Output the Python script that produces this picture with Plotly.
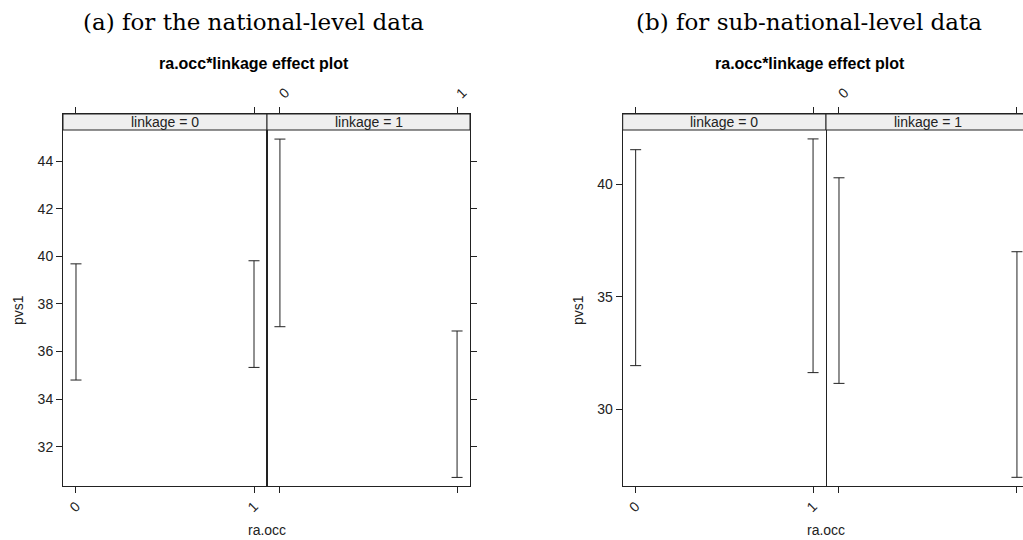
import plotly.graph_objects as go

# Confidence limits of pvs1 by ra.occ (0/1), split by linkage (0/1)
ra_occ = [0, 1]
ra_occ_labels = ["0", "1"]

# (a) national-level data
nat_link0_lower = [34.80, 35.33]
nat_link0_upper = [39.68, 39.81]
nat_link1_lower = [37.04, 30.71]
nat_link1_upper = [44.92, 36.86]
nat_yticks = [32, 34, 36, 38, 40, 42, 44]

# (b) sub-national-level data
sub_link0_lower = [31.93, 31.62]
sub_link0_upper = [41.54, 42.02]
sub_link1_lower = [31.14, 26.96]
sub_link1_upper = [40.29, 37.00]
sub_yticks = [30, 35, 40]

W, H = 1023, 540
INK = "#222222"
STRIP_FILL = "#efefef"
SANS = "Liberation Sans, Arial, sans-serif"
SERIF = "DejaVu Serif, serif"


def px(xp):
    return xp / W


def py(yp):
    return 1 - yp / H


fig = go.Figure()


def add_bars(xa, ya, lower, upper):
    mid = [(lo + hi) / 2 for lo, hi in zip(lower, upper)]
    fig.add_trace(go.Scatter(
        x=ra_occ, y=mid, xaxis=xa, yaxis=ya, mode="markers",
        marker=dict(size=1, color="rgba(0,0,0,0)"),
        error_y=dict(type="data", symmetric=False,
                     array=[h - m for h, m in zip(upper, mid)],
                     arrayminus=[m - l for m, l in zip(mid, lower)],
                     width=5.5, thickness=1, color=INK),
        showlegend=False, hoverinfo="skip"))


add_bars("x", "y", nat_link0_lower, nat_link0_upper)
add_bars("x2", "y2", nat_link1_lower, nat_link1_upper)
add_bars("x3", "y3", sub_link0_lower, sub_link0_upper)
add_bars("x4", "y4", sub_link1_lower, sub_link1_upper)

TOP, BOT = 114, 485.7
ydom = [py(BOT), py(TOP)]
tickfont = dict(family=SANS, size=14, color=INK)

xcommon = dict(tickvals=ra_occ, ticktext=ra_occ_labels, tickangle=-45,
               ticks="outside", ticklen=6, tickcolor=INK, tickwidth=1,
               showline=True, linecolor=INK, linewidth=1, mirror="ticks",
               showgrid=False, zeroline=False, tickfont=tickfont, fixedrange=True)
ycommon = dict(ticks="outside", ticklen=6, tickcolor=INK, tickwidth=1,
               showline=True, linecolor=INK, linewidth=1,
               showgrid=False, zeroline=False, tickfont=tickfont, fixedrange=True)

a_l, a_m, a_r = 63, 267, 470
b_l, b_m = 622.7, 826
nat_range = [30.362, 45.974]
sub_range = [26.587, 43.129]

fig.update_layout(
    width=W, height=H, margin=dict(l=0, r=0, t=0, b=0),
    paper_bgcolor="white", plot_bgcolor="white",
    xaxis=dict(xcommon, domain=[px(a_l), px(a_m)], anchor="y", side="bottom",
               range=[-0.073, 1.073]),
    xaxis2=dict(xcommon, domain=[px(a_m), px(a_r)], anchor="y2", side="top",
                range=[-0.073, 1.073]),
    xaxis3=dict(xcommon, domain=[px(b_l), px(b_m)], anchor="y3", side="bottom",
                range=[-0.073, 1.073]),
    xaxis4=dict(xcommon, domain=[px(b_m), 1.0], anchor="y4", side="top",
                range=[-0.073, 1.034]),
    yaxis=dict(ycommon, domain=ydom, anchor="x", side="left", range=nat_range,
               tickvals=nat_yticks, mirror=True),
    yaxis2=dict(ycommon, domain=ydom, anchor="x2", side="right", range=nat_range,
                tickvals=nat_yticks, showticklabels=False, mirror=True),
    yaxis3=dict(ycommon, domain=ydom, anchor="x3", side="left", range=sub_range,
                tickvals=sub_yticks, mirror=True),
    yaxis4=dict(ycommon, domain=ydom, anchor="x4", side="right", range=sub_range,
                tickvals=sub_yticks, showticklabels=False, showline=False,
                ticks=""),
)

# Strip headers for the linkage panels
STRIP_BOT = 130
shapes = []
annotations = []
for x0, x1, label in [(a_l, a_m, "linkage = 0"), (a_m, a_r, "linkage = 1"),
                      (b_l, b_m, "linkage = 0"), (b_m, b_m + 204, "linkage = 1")]:
    shapes.append(dict(type="rect", xref="paper", yref="paper",
                       x0=px(x0), x1=px(x1), y0=py(STRIP_BOT), y1=py(TOP),
                       fillcolor=STRIP_FILL, line=dict(color=INK, width=1),
                       layer="above"))
    annotations.append(dict(text=label, xref="paper", yref="paper",
                            x=px((x0 + x1) / 2), y=py((TOP + STRIP_BOT) / 2),
                            showarrow=False, xanchor="center", yanchor="middle",
                            font=dict(family=SANS, size=14, color=INK)))

# Titles, subtitles and axis titles
for cx, title in [(253.5, "(a) for the national-level data"),
                  (809, "(b) for sub-national-level data")]:
    annotations.append(dict(text=title, xref="paper", yref="paper",
                            x=px(cx), y=py(22), showarrow=False,
                            xanchor="center", yanchor="middle",
                            font=dict(family=SERIF, size=23, color="black")))
for cx in [253.5, 810]:
    annotations.append(dict(text="<b>ra.occ*linkage effect plot</b>",
                            xref="paper", yref="paper", x=px(cx), y=py(63),
                            showarrow=False, xanchor="center", yanchor="middle",
                            font=dict(family=SANS, size=16, color="black")))
for cx in [a_m, b_m]:
    annotations.append(dict(text="ra.occ", xref="paper", yref="paper",
                            x=px(cx), y=py(530), showarrow=False,
                            xanchor="center", yanchor="middle",
                            font=dict(family=SANS, size=14, color=INK)))
for cx in [18, 578]:
    annotations.append(dict(text="pvs1", xref="paper", yref="paper",
                            x=px(cx), y=py(310), showarrow=False, textangle=-90,
                            xanchor="center", yanchor="middle",
                            font=dict(family=SANS, size=14, color=INK)))

fig.update_layout(shapes=shapes, annotations=annotations)
fig.write_html("out.html")
